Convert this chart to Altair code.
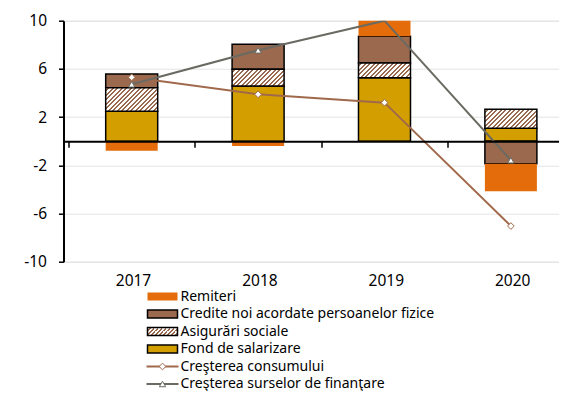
import math
import altair as alt
import pandas as pd

# ---------------- data ----------------
years = ["2017", "2018", "2019", "2020"]
fond = [2.48, 4.58, 5.27, 1.07]          # Fond de salarizare
asig = [1.96, 1.39, 1.22, 1.58]          # Asigurări sociale
credite = [1.14, 2.07, 2.22, -1.87]      # Credite noi acordate persoanelor fizice
remiteri = [-0.79, -0.40, 1.35, -2.29]   # Remiteri
consum = [5.30, 3.89, 3.20, -7.04]       # Creşterea consumului
surse = [4.72, 7.54, 10.0, -1.58]        # Creşterea surselor de finanţare

names = [
    "Remiteri",
    "Credite noi acordate persoanelor fizice",
    "Asigurări sociale",
    "Fond de salarizare",
    "Creşterea consumului",
    "Creşterea surselor de finanţare",
]
y_ticks = [-10, -6, -2, 2, 6, 10]

# ---------------- style ----------------
FONT = "Noto Sans"
C_REM = "#E46C0A"
C_CRED = "#9B6A4E"
C_FOND = "#D39E00"
C_CONS = "#A0694B"
C_SURS = "#6B6A62"
C_GRID = "#E4E4E4"

STEP = 129                 # pixel width of one year's slot
PAD_TOP = 12.7
PAD_LEFT = 55.5
SVG_W = 551
SVG_H = 383
PLOT_W = SVG_W - PAD_LEFT  # plot runs to the right edge
PLOT_H = 241
BAR_W = 52
PX_PER_UNIT = PLOT_H / 20.0


def hatch(w, h, period=4.5, frac=0.45, color=C_CRED):
    """Diagonal '////' stripes as a linear gradient over a w x h box."""
    d = w * w + h * h
    x2 = (w + h) * w / d
    y2 = (w + h) * h / d
    n = (w + h) / period
    stops = []
    i = 0
    while i / n < 1:
        a = i / n
        b = min((i + 1 - frac) / n, 1)
        c = min((i + 1) / n, 1)
        stops += [
            alt.GradientStop(offset=a, color="white"),
            alt.GradientStop(offset=b, color="white"),
            alt.GradientStop(offset=b, color=color),
            alt.GradientStop(offset=c, color=color),
        ]
        i += 1
    return alt.LinearGradient(gradient="linear", stops=stops, x1=0, y1=0, x2=x2, y2=y2)


# stacked segments (positive and negative stacked separately)
rows = []
for i, yr in enumerate(years):
    pos = neg = 0.0
    for name, vals in [(names[3], fond), (names[2], asig), (names[1], credite), (names[0], remiteri)]:
        v = vals[i]
        if v >= 0:
            y0, y1 = pos, pos + v
            pos = y1
        else:
            y0, y1 = neg, neg + v
            neg = y1
        rows.append(dict(year=yr, xi=i, series=name, y0=y0, y1=y1, value=v))
stack = pd.DataFrame(rows)

lines = pd.DataFrame(
    [dict(year=yr, xi=i, series=names[4], value=v) for i, (yr, v) in enumerate(zip(years, consum))]
    + [dict(year=yr, xi=i, series=names[5], value=v) for i, (yr, v) in enumerate(zip(years, surse))]
)

year_list = "[" + ",".join("'%s'" % y for y in years) + "]"
xaxis = alt.Axis(
    orient="bottom", offset=-(PLOT_H / 2), title=None, labelAngle=0,
    values=[i - 0.5 for i in range(len(years))],
    labelExpr=year_list + "[round(datum.value + 0.5)]",
    labelOffset=STEP / 2, labelFlush=False, labelOverlap=False, labelBound=False,
    domainColor="black", domainWidth=2, ticks=True,
    tickColor="black", tickWidth=1.5, tickSize=6, labelPadding=126,
    labelFont=FONT, labelFontSize=15.5, labelColor="black", grid=False, zindex=1,
)
xscale = alt.Scale(domain=[-0.5, -0.5 + PLOT_W / STEP], nice=False, zero=False)
X = alt.X("xi:Q", scale=xscale, axis=xaxis)
yscale = alt.Scale(domain=[-10, 10], nice=False, zero=False)
yaxis = alt.Axis(
    values=y_ticks, title=None, grid=True, gridColor=C_GRID, gridWidth=1,
    labelExpr="'' + datum.value",
    domainColor="black", domainWidth=2, tickColor="black", tickWidth=1.5, tickSize=5,
    labelPadding=12, labelFont=FONT, labelFontSize=15.5, labelColor="black",
)

base = alt.Chart(stack)
bars = base.transform_filter(alt.datum.series != names[2]).mark_bar(
    width=BAR_W, stroke="black", clip=True, orient="vertical"
).encode(
    x=X,
    y=alt.Y("y0:Q", scale=yscale, axis=yaxis),
    y2="y1:Q",
    fill=alt.Color("series:N", scale=alt.Scale(domain=[names[0], names[1], names[3]],
                                               range=[C_REM, C_CRED, C_FOND]), legend=None),
    strokeWidth=alt.condition(alt.datum.series == names[0], alt.value(0), alt.value(1.5)),
)

hatched = []
for i, yr in enumerate(years):
    h_px = abs(asig[i]) * PX_PER_UNIT
    hatched.append(
        base.transform_filter((alt.datum.series == names[2]) & (alt.datum.year == yr)).mark_bar(
            width=BAR_W, stroke="black", strokeWidth=1.5, fill=hatch(BAR_W, h_px), clip=True,
            orient="vertical"
        ).encode(x=X, y=alt.Y("y0:Q", scale=yscale, axis=yaxis), y2="y1:Q")
    )

lbase = alt.Chart(lines)
cons_line = lbase.transform_filter(alt.datum.series == names[4]).mark_line(
    color=C_CONS, strokeWidth=2, clip=True).encode(x=X, y=alt.Y("value:Q", scale=yscale, axis=yaxis))
surs_line = lbase.transform_filter(alt.datum.series == names[5]).mark_line(
    color=C_SURS, strokeWidth=2, clip=True).encode(x=X, y=alt.Y("value:Q", scale=yscale, axis=yaxis))
# markers are drawn only strictly inside the plot area (as in the original)
cons_pts = lbase.transform_filter((alt.datum.series == names[4]) & (alt.datum.value < 10)).mark_point(
    shape="diamond", filled=True, fill="white", stroke=C_CONS, strokeWidth=1, size=45, opacity=1, clip=True
).encode(x=X, y=alt.Y("value:Q", scale=yscale, axis=yaxis))
surs_pts = lbase.transform_filter((alt.datum.series == names[5]) & (alt.datum.value < 10)).mark_point(
    shape="triangle-up", filled=True, fill="white", stroke=C_SURS, strokeWidth=1, size=40, opacity=1, clip=True
).encode(x=X, y=alt.Y("value:Q", scale=yscale, axis=yaxis))

plot = alt.layer(bars, *hatched, cons_line, surs_line, cons_pts, surs_pts)

# ---------------- legend (drawn below the plot) ----------------
leg = pd.DataFrame({"name": names})
ROW0 = 296.5 - 8 - PAD_TOP
ROW_STEP = 17.5
LY = alt.Y("name:N", sort=names,
           scale=alt.Scale(type="point", domain=names, range=[ROW0, ROW0 + 5 * ROW_STEP], padding=0),
           axis=None)
SYM_X = 162.5 - 8 - PAD_LEFT
TXT_X = 180.5 - 8 - PAD_LEFT
RECT = "M-1,-0.2667H1V0.2667H-1Z"
LINE = "M-1,0H1"
lb = alt.Chart(leg)


def leg_rect(name, fill, sw):
    return lb.transform_filter(alt.datum.name == name).mark_point(
        shape=RECT, size=900, filled=True, fill=fill, stroke="black", strokeWidth=sw, opacity=1
    ).encode(x=alt.value(SYM_X), y=LY)


def leg_line(name, color, marker, msize):
    ln = lb.transform_filter(alt.datum.name == name).mark_point(
        shape=LINE, size=1024, filled=False, stroke=color, strokeWidth=2, opacity=1
    ).encode(x=alt.value(SYM_X), y=LY)
    mk = lb.transform_filter(alt.datum.name == name).mark_point(
        shape=marker, size=msize, filled=True, fill="white", stroke=color, strokeWidth=1, opacity=1
    ).encode(x=alt.value(SYM_X), y=LY)
    return [ln, mk]


legend_layers = [
    leg_rect(names[0], C_REM, 0),
    leg_rect(names[1], C_CRED, 1.5),
    leg_rect(names[2], hatch(30, 8, period=4.0), 1.5),
    leg_rect(names[3], C_FOND, 1.5),
    *leg_line(names[4], C_CONS, "diamond", 45),
    *leg_line(names[5], C_SURS, "triangle-up", 40),
    lb.mark_text(align="left", baseline="middle", font=FONT, fontSize=14, color="black").encode(
        x=alt.value(TXT_X), y=LY, text="name:N"),
]
legend = alt.layer(*legend_layers)

chart = alt.layer(plot, legend).resolve_scale(y="independent").properties(
    width=PLOT_W, height=PLOT_H,
    padding={"left": PAD_LEFT, "top": PAD_TOP, "right": 0, "bottom": SVG_H - PAD_TOP - PLOT_H},
    autosize=alt.AutoSizeParams(type="none"),
).configure_view(strokeWidth=0).configure(font=FONT)

chart.save("out.html", embed_options={"renderer": "svg", "actions": False})
